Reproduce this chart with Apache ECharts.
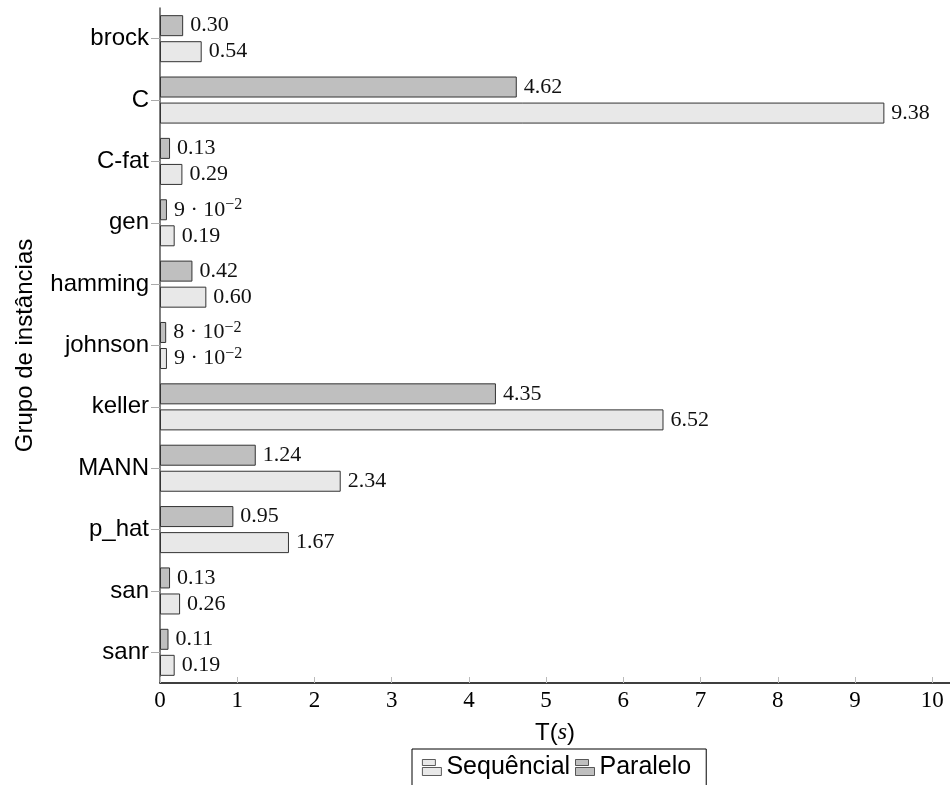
<!DOCTYPE html>
<html>
<head>
<meta charset="utf-8">
<script src="https://cdn.jsdelivr.net/npm/echarts@6/dist/echarts.min.js"></script>
<style>html,body{margin:0;padding:0;background:#fff;}#c{width:950px;height:785px;}</style>
</head>
<body>
<div id="c"></div>
<script>
const categories = ['brock', 'C', 'C-fat', 'gen', 'hamming', 'johnson', 'keller', 'MANN', 'p_hat', 'san', 'sanr'];
const sequencial = [0.54, 9.38, 0.29, 0.19, 0.60, 0.09, 6.52, 2.34, 1.67, 0.26, 0.19];
const paralelo   = [0.30, 4.62, 0.13, 0.09, 0.42, 0.08, 4.35, 1.24, 0.95, 0.13, 0.11];
const xTicks = [0, 1, 2, 3, 4, 5, 6, 7, 8, 9, 10];

const serif = 'Liberation Serif';
const sans = 'Liberation Sans';

function fmt(p) {
  const v = p.value;
  if (v < 0.1) {
    return Math.round(v * 100) + ' · 10{sup|−2}';
  }
  return v.toFixed(2);
}
const labelCfg = {
  show: true,
  position: 'right',
  distance: 7,
  fontFamily: serif,
  fontSize: 22,
  color: '#111',
  formatter: fmt,
  rich: {
    sup: { fontFamily: serif, fontSize: 16, verticalAlign: 'top', padding: [0, 0, 10, 0], color: '#111' }
  }
};

const chart = echarts.init(document.getElementById('c'), null, { renderer: 'canvas' });
chart.setOption({
  animation: false,
  backgroundColor: '#fff',
  grid: { left: 160, right: 0, top: 8, bottom: 102, containLabel: false },
  legend: {
    data: ['Sequêncial', 'Paralelo'],
    top: 749,
    left: 412,
    orient: 'horizontal',
    borderColor: '#000',
    borderWidth: 1,
    borderRadius: 0,
    padding: [6, 15, 10, 10],
    itemGap: 5,
    itemWidth: 19,
    itemHeight: 16,
    icon: 'path://M0,0H13V6H0Z M0,8H19V16H0Z',
    itemStyle: { borderWidth: 0.8, borderColor: '#333' },
    textStyle: { fontFamily: sans, fontSize: 25, color: '#000' }
  },
  xAxis: {
    type: 'value',
    min: 0,
    max: 10.23,
    interval: 1,
    name: 'T({i|s})',
    nameLocation: 'middle',
    nameGap: 38,
    nameTextStyle: {
      fontFamily: sans, fontSize: 24, color: '#000',
      rich: { i: { fontFamily: serif, fontStyle: 'italic', fontSize: 24, color: '#000' } }
    },
    axisLine: { show: true, lineStyle: { color: '#000', width: 1.5 } },
    axisTick: { show: true, inside: true, length: 6, lineStyle: { color: '#bbb' } },
    axisLabel: {
      fontFamily: serif, fontSize: 23, color: '#000', margin: 6, showMaxLabel: false,
      formatter: function (v) { return xTicks.indexOf(v) >= 0 ? String(v) : ''; }
    },
    splitLine: { show: false }
  },
  yAxis: {
    type: 'category',
    data: categories,
    inverse: true,
    name: 'Grupo de instâncias',
    nameLocation: 'middle',
    nameGap: 123,
    nameRotate: 90,
    nameTextStyle: { fontFamily: sans, fontSize: 24, color: '#000' },
    axisLine: { show: true, lineStyle: { color: '#555', width: 1.5 } },
    axisTick: { show: true, alignWithLabel: true, length: 9, lineStyle: { color: '#aaa' } },
    axisLabel: { fontFamily: sans, fontSize: 24, color: '#000', margin: 11 }
  },
  series: [
    {
      name: 'Paralelo',
      type: 'bar',
      data: paralelo,
      barWidth: 21,
      barGap: '24%',
      itemStyle: { color: '#bfbfbf', borderColor: '#333', borderWidth: 1 },
      label: labelCfg
    },
    {
      name: 'Sequêncial',
      type: 'bar',
      data: sequencial,
      barWidth: 21,
      barGap: '24%',
      itemStyle: { color: '#e8e8e8', borderColor: '#333', borderWidth: 1 },
      label: labelCfg
    }
  ]
});
</script>
</body>
</html>
